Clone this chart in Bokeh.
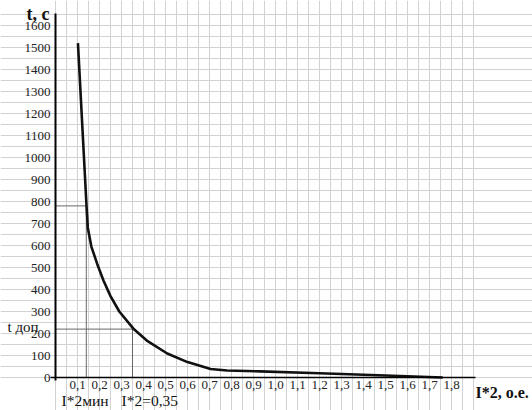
from bokeh.plotting import figure
from bokeh.models import (Range1d, FixedTicker, SingleIntervalTicker, Label,
                          CustomJSTickFormatter)
from bokeh.embed import file_html
from bokeh.resources import INLINE

# ---- data ----
current = [0.102, 0.141, 0.147, 0.163, 0.19, 0.218, 0.25, 0.29,
           0.353, 0.415, 0.508, 0.60, 0.705, 0.78, 0.93, 1.2, 1.5, 1.76]
time_s = [1520, 780, 680, 595, 515, 441, 370, 300,
          223, 168, 109, 70, 39, 32, 28, 19, 9, 0]

i_min = 0.14
t_at_min = 780
i_op = 0.35
t_dop = 220

x_ticks = [0.1, 0.2, 0.3, 0.4, 0.5, 0.6, 0.7, 0.8, 0.9, 1.0,
           1.1, 1.2, 1.3, 1.4, 1.5, 1.6, 1.7, 1.8]
y_ticks = [0, 100, 200, 300, 400, 500, 600, 700, 800, 900, 1000,
           1100, 1200, 1300, 1400, 1500, 1600]

y_title = "t, c"
x_title = "I*2, o.e."
t_label = "t доп"
imin_label = "I*2мин"
iop_label = "I*2=0,35"

FONT = "Liberation Serif"

W, H = 532, 410

# layout helpers: picture pixel -> data coordinates
def dx(X):
    return (X - 55) / 220.0

def dy(Y):
    return (377 - Y) / 0.22

p = figure(width=W, height=H,
           x_range=Range1d(dx(0), dx(W)), y_range=Range1d(dy(H), dy(0)),
           min_border=0, toolbar_location=None, output_backend="svg")
p.outline_line_color = None
p.background_fill_color = "white"
p.border_fill_color = "white"

# graph paper grid
p.xgrid.ticker = SingleIntervalTicker(interval=0.05)
p.ygrid.ticker = SingleIntervalTicker(interval=50)
for g in (p.xgrid, p.ygrid):
    g.grid_line_color = "#d2d2d2"
    g.grid_line_width = 1

# axes through the origin
xa = p.xaxis[0]
ya = p.yaxis[0]
xa.fixed_location = 0
ya.fixed_location = 0
xa.ticker = FixedTicker(ticks=x_ticks)
ya.ticker = FixedTicker(ticks=y_ticks)
xa.formatter = CustomJSTickFormatter(code="return tick.toFixed(1).replace('.', ',')")
xa.bounds = (-0.023, 1.91)
ya.bounds = (-14, 1655)
for ax in (xa, ya):
    ax.major_tick_in = 0
    ax.major_tick_out = 0
    ax.minor_tick_in = 0
    ax.minor_tick_out = 0
    ax.axis_line_color = "black"
    ax.major_label_text_font = FONT
    ax.major_label_text_font_size = "13px"
    ax.major_label_text_color = "#222222"
xa.axis_line_width = 1.5
ya.axis_line_width = 2
xa.major_label_standoff = 3
ya.major_label_standoff = 5

# reference lines
ref_color = "#666666"
p.line([0, i_min], [t_at_min, t_at_min], line_color=ref_color, line_width=1)
p.line([i_min, i_min], [0, t_at_min], line_color=ref_color, line_width=1)
p.line([0, i_op], [t_dop, t_dop], line_color=ref_color, line_width=1)
p.line([i_op, i_op], [0, t_dop], line_color=ref_color, line_width=1)

# characteristic curve
p.line(current, time_s, line_color="#111111", line_width=2.6, line_join="round")

# texts
def add_label(x, y, text, size, bold=False):
    p.add_layout(Label(x=x, y=y, text=text, text_font=FONT,
                       text_font_size=size,
                       text_font_style="bold" if bold else "normal",
                       text_color="#111111", text_align="left",
                       text_baseline="alphabetic"))

add_label(dx(26), dy(13), y_title, "18px", bold=True)
add_label(dx(475), dy(392), x_title, "16px", bold=True)
add_label(dx(7), dy(326.5), t_label, "15px")
add_label(dx(61), dy(400), imin_label, "15.5px")
add_label(dx(121), dy(400), iop_label, "15.5px")

open("out.html", "w").write(file_html(p, INLINE))
